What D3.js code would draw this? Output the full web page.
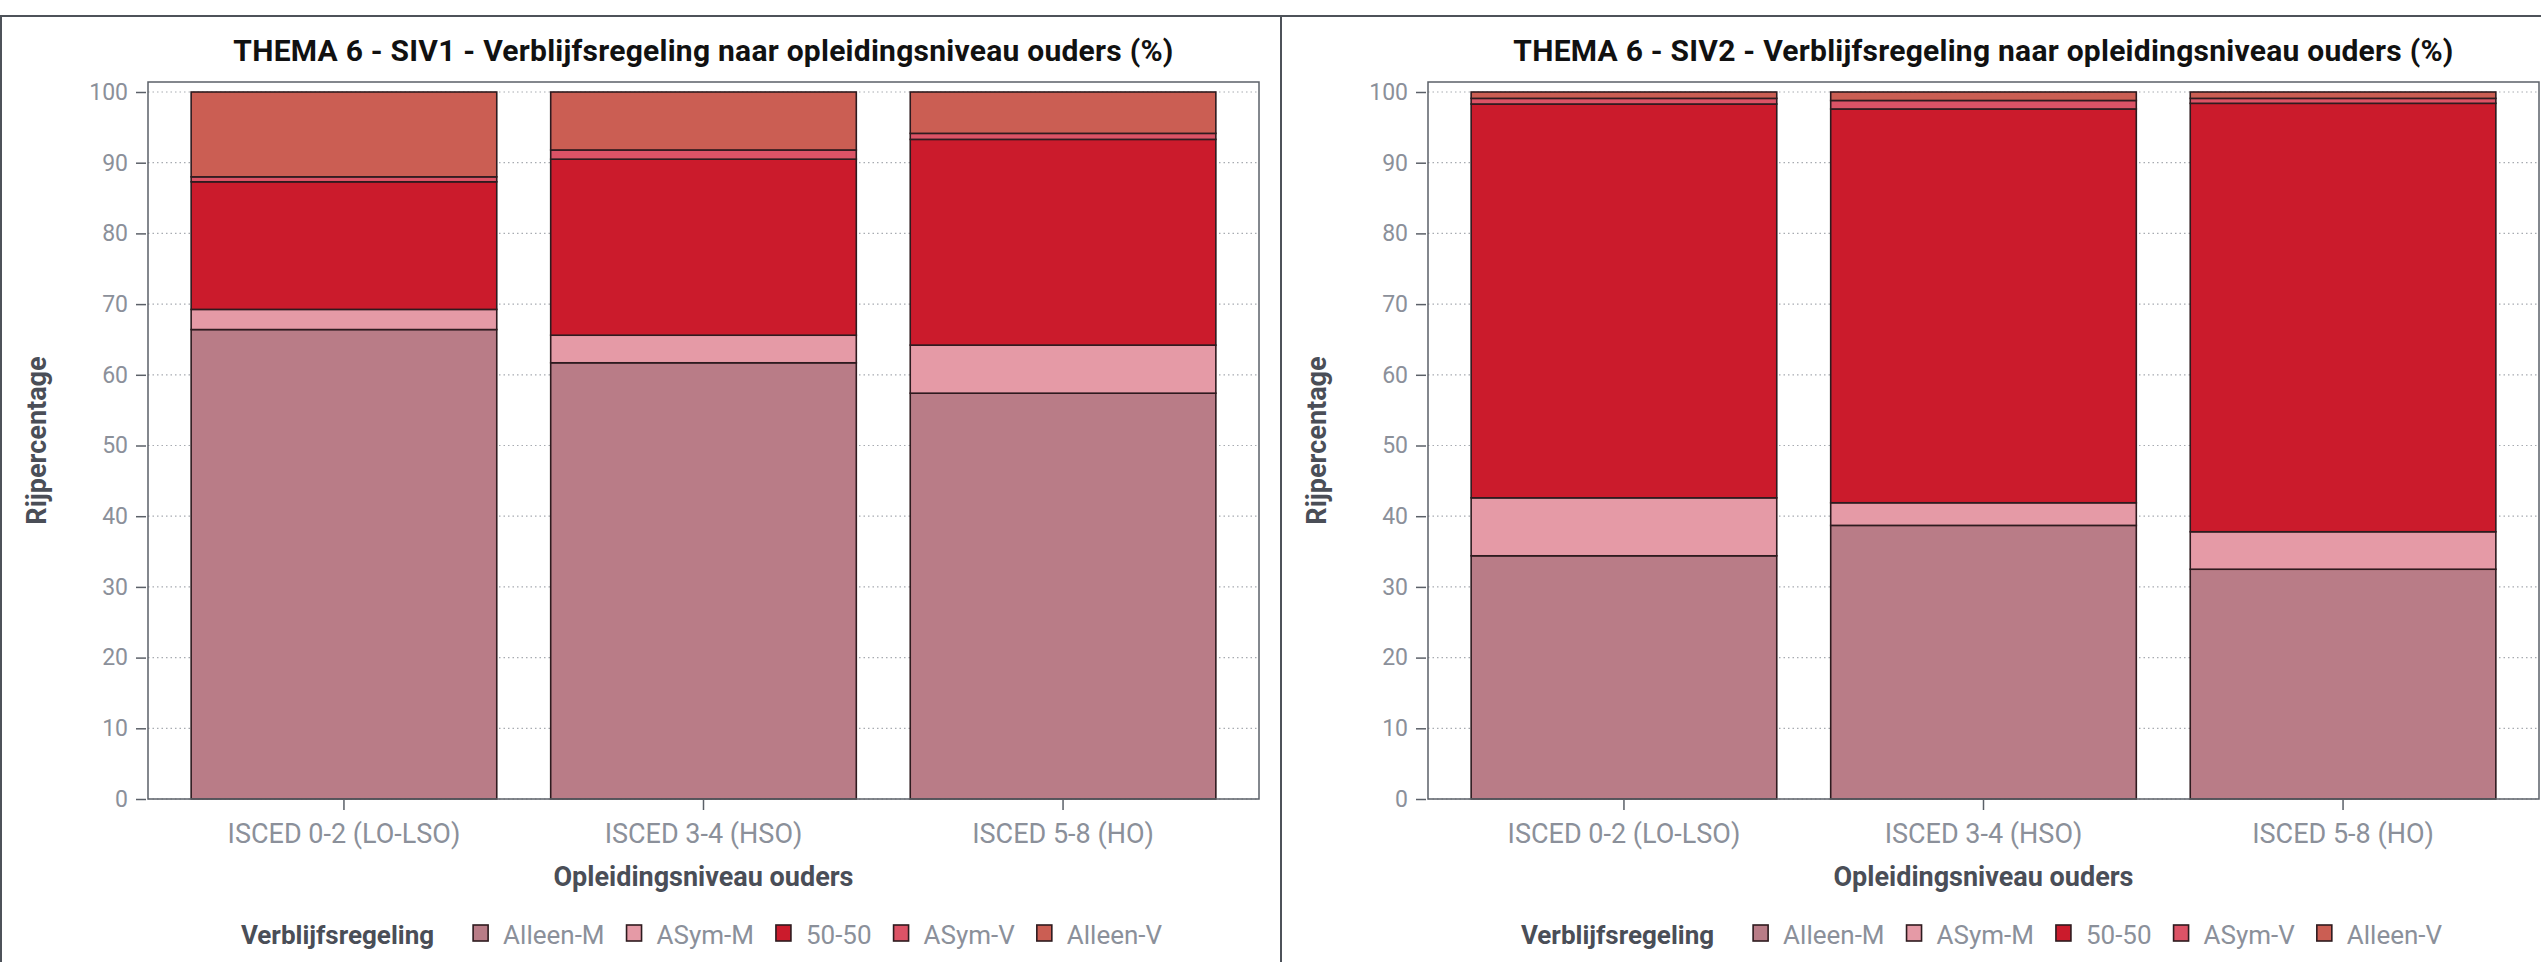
<!DOCTYPE html>
<html><head><meta charset="utf-8">
<script src="https://cdn.jsdelivr.net/npm/d3@7"></script>
<style>
html,body{margin:0;padding:0;background:#fff;}
svg{display:block;}
text{font-family:Roboto,"Noto Sans",sans-serif;}
</style></head>
<body>
<script>
// ---- data ----
const categories = ["ISCED 0-2 (LO-LSO)", "ISCED 3-4 (HSO)", "ISCED 5-8 (HO)"];
const seriesNames = ["Alleen-M", "ASym-M", "50-50", "ASym-V", "Alleen-V"];
const seriesColors = ["#b97c87", "#e59aa6", "#cb1b2c", "#dc5366", "#cb5e53"];
const yTicks = [0, 10, 20, 30, 40, 50, 60, 70, 80, 90, 100];
// SIV1 values per category, in series order
const siv1AlleenM = [66.4, 61.7, 57.4];
const siv1AsymM   = [2.85, 3.9, 6.8];
const siv1Fifty   = [18.05, 24.9, 29.1];
const siv1AsymV   = [0.7, 1.3, 0.85];
const siv1AlleenV = [12.0, 8.2, 5.85];
// SIV2
const siv2AlleenM = [34.4, 38.7, 32.5];
const siv2AsymM   = [8.2, 3.2, 5.3];
const siv2Fifty   = [55.7, 55.7, 60.6];
const siv2AsymV   = [0.8, 1.2, 0.7];
const siv2AlleenV = [0.9, 1.2, 0.9];

const titles = [
  "THEMA 6 - SIV1 - Verblijfsregeling naar opleidingsniveau ouders (%)",
  "THEMA 6 - SIV2 - Verblijfsregeling naar opleidingsniveau ouders (%)"
];
const xTitle = "Opleidingsniveau ouders";
const yTitle = "Rijpercentage";
const legendTitle = "Verblijfsregeling";

function buildRows(a, b, c, d, e) {
  return categories.map((cat, i) => ({
    cat,
    "Alleen-M": a[i], "ASym-M": b[i], "50-50": c[i], "ASym-V": d[i], "Alleen-V": e[i]
  }));
}
const panels = [
  {title: titles[0], rows: buildRows(siv1AlleenM, siv1AsymM, siv1Fifty, siv1AsymV, siv1AlleenV)},
  {title: titles[1], rows: buildRows(siv2AlleenM, siv2AsymM, siv2Fifty, siv2AsymV, siv2AlleenV)}
];

// ---- layout ----
const W = 2541, H = 962;
const svg = d3.select("body").append("svg").attr("width", W).attr("height", H);

const panelW = 1280;
const plot = {left: 148, right: 1259, top: 82, bottom: 799};
const tickColor = "#8b909a";
const axisTitleColor = "#4a4e57";
const frameColor = "#5b6068";

const color = d3.scaleOrdinal().domain(seriesNames).range(seriesColors);
const stack = d3.stack().keys(seriesNames);

panels.forEach((p, pi) => {
  const g = svg.append("g").attr("transform", `translate(${pi * panelW},0)`);

  const x = d3.scaleBand().domain(categories)
    .range([plot.left, plot.right]).paddingInner(0.15).paddingOuter(0.12);
  const y = d3.scaleLinear().domain([0, 100]).range([plot.bottom, 92]);

  // gridlines
  g.append("g").selectAll("line").data(yTicks).join("line")
    .attr("x1", plot.left).attr("x2", plot.right)
    .attr("y1", d => y(d)).attr("y2", d => y(d))
    .attr("stroke", "#a7abb1").attr("stroke-width", 1.2)
    .attr("stroke-dasharray", "1.5,3");

  // bars
  const series = stack(p.rows);
  g.append("g").selectAll("g").data(series).join("g")
    .attr("fill", d => color(d.key))
    .selectAll("rect").data(d => d).join("rect")
    .attr("x", d => x(d.data.cat))
    .attr("width", x.bandwidth())
    .attr("y", d => y(d[1]))
    .attr("height", d => y(d[0]) - y(d[1]))
    .attr("stroke", "#2e1b1f").attr("stroke-width", 1.6);

  // frame
  g.append("rect").attr("x", plot.left).attr("y", plot.top)
    .attr("width", plot.right - plot.left).attr("height", plot.bottom - plot.top)
    .attr("fill", "none").attr("stroke", frameColor).attr("stroke-width", 1.5);

  // y axis
  const yAxis = d3.axisLeft(y).tickValues(yTicks).tickSize(10).tickPadding(8);
  const ya = g.append("g").attr("transform", `translate(${plot.left - 2},0)`).call(yAxis);
  ya.select(".domain").remove();
  ya.selectAll(".tick line").attr("stroke", frameColor).attr("stroke-width", 1.5);
  ya.selectAll(".tick text").attr("fill", tickColor).style("font-size", "23px")
    .style("font-family", "Roboto");

  // x axis
  const xAxis = d3.axisBottom(x).tickSize(10).tickPadding(14);
  const xa = g.append("g").attr("transform", `translate(0,${plot.bottom + 1})`).call(xAxis);
  xa.select(".domain").remove();
  xa.selectAll(".tick line").attr("stroke", frameColor).attr("stroke-width", 1.5);
  xa.selectAll(".tick text").attr("fill", tickColor).style("font-size", "27px")
    .style("font-family", "Roboto");

  const cx = (plot.left + plot.right) / 2;
  // title
  g.append("text").attr("x", cx).attr("y", 61).attr("text-anchor", "middle")
    .attr("fill", "#111").style("font-weight", "bold").style("font-size", "30px")
    .style("letter-spacing", "0.25px")
    .text(p.title);
  // x title
  g.append("text").attr("x", cx).attr("y", 886).attr("text-anchor", "middle")
    .attr("fill", axisTitleColor).style("font-weight", "bold").style("font-size", "27px")
    .text(xTitle);
  // y title
  g.append("text").attr("transform", `translate(46,${(plot.top + plot.bottom) / 2}) rotate(-90)`)
    .attr("text-anchor", "middle")
    .attr("fill", axisTitleColor).style("font-weight", "bold").style("font-size", "27px")
    .text(yTitle);

  // legend
  const lg = g.append("g");
  const lt = lg.append("text").attr("x", 0).attr("y", 944)
    .attr("fill", axisTitleColor).style("font-weight", "bold").style("font-size", "26px")
    .text(legendTitle);
  let pos = lt.node().getComputedTextLength() + 39;
  seriesNames.forEach(name => {
    lg.append("rect").attr("x", pos).attr("y", 925).attr("width", 15).attr("height", 16)
      .attr("fill", color(name)).attr("stroke", "#2e1b1f").attr("stroke-width", 1.6);
    const t = lg.append("text").attr("x", pos + 30).attr("y", 944)
      .attr("fill", tickColor).style("font-size", "26px").text(name);
    pos += 30 + t.node().getComputedTextLength() + 22;
  });
  const total = pos - 22;
  lg.attr("transform", `translate(${cx - total / 2 - 2},0)`);
});

// panel borders
svg.append("line").attr("x1", 0).attr("x2", W).attr("y1", 16).attr("y2", 16)
  .attr("stroke", "#4d5259").attr("stroke-width", 2);
svg.append("line").attr("x1", 1).attr("x2", 1).attr("y1", 16).attr("y2", H)
  .attr("stroke", "#4d5259").attr("stroke-width", 2);
svg.append("line").attr("x1", 1281).attr("x2", 1281).attr("y1", 16).attr("y2", H)
  .attr("stroke", "#4d5259").attr("stroke-width", 2);
</script>
</body></html>
